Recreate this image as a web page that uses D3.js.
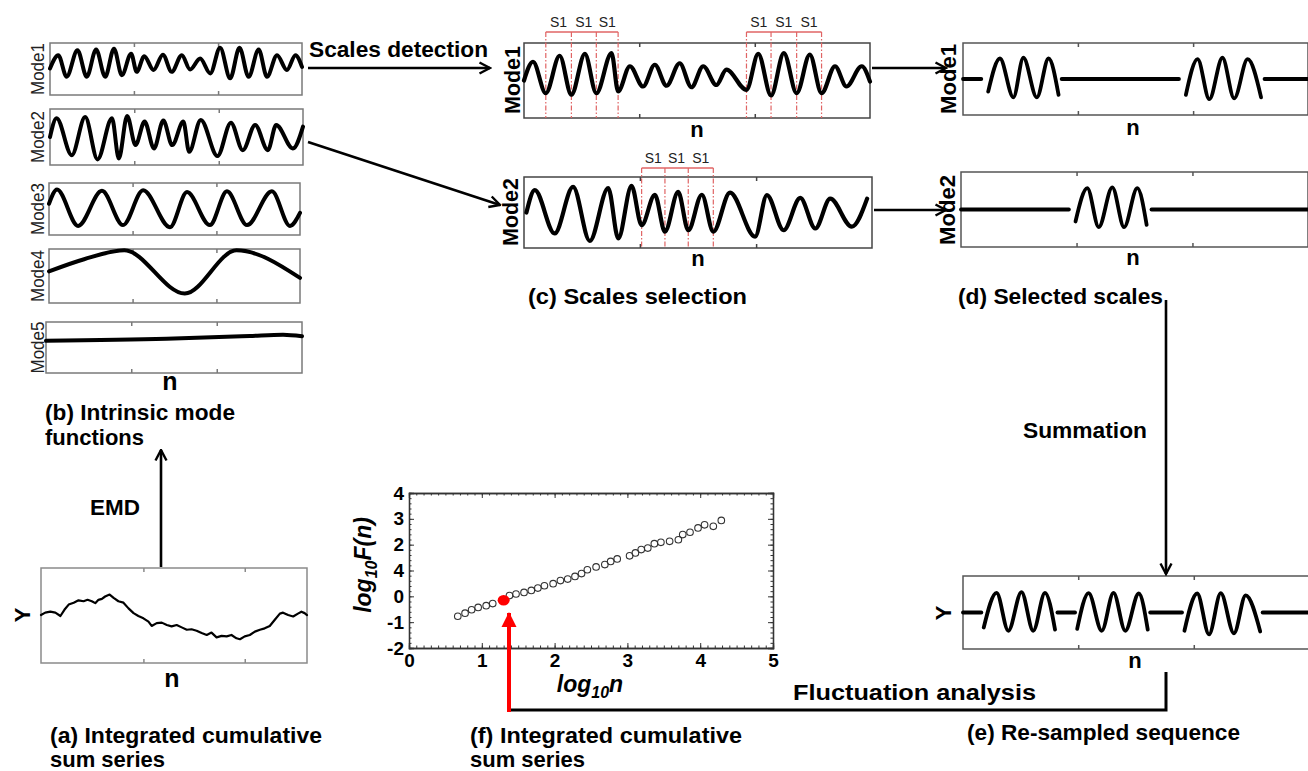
<!DOCTYPE html>
<html>
<head>
<meta charset="utf-8">
<script src="https://cdn.jsdelivr.net/npm/d3@7"></script>
<style>
  html, body { margin: 0; padding: 0; background: #fff; }
  svg { display: block; font-family: "Liberation Sans", Arial, sans-serif; }
</style>
</head>
<body>
<svg id="fig" width="1308" height="771"></svg>
<script>
// ---------------- data ----------------
// sample index n runs 0..1000 in every strip, amplitude -1..1 spans the strip height

// (a) integrated cumulative sum series
const cumSum = [[0,0.01],[16,0.06],[35,0.08],[54,0.06],[73,-0.01],[88,0.12],[104,0.23],[123,0.27],[141,0.32],[160,0.30],[175,0.33],[191,0.30],[204,0.26],[216,0.33],[229,0.35],[241,0.40],[258,0.44],[273,0.37],[291,0.30],[310,0.27],[329,0.15],[348,0.05],[366,-0.01],[385,-0.06],[404,-0.13],[416,-0.22],[435,-0.16],[454,-0.15],[473,-0.20],[491,-0.23],[510,-0.20],[529,-0.25],[548,-0.30],[566,-0.29],[585,-0.32],[604,-0.37],[623,-0.41],[641,-0.36],[660,-0.46],[679,-0.43],[698,-0.44],[716,-0.41],[735,-0.48],[748,-0.50],[766,-0.44],[785,-0.41],[804,-0.34],[823,-0.30],[841,-0.27],[860,-0.22],[879,-0.09],[898,0.04],[910,0.06],[929,0.01],[948,-0.02],[966,0.04],[979,0.08],[991,0.05],[1000,0.01]];
const cumSumTicks = [385, 766];

// (b) intrinsic mode functions (turning points)
const imfMode1 = [[0,0.02],[33,0.53],[66,-0.30],[109,0.72],[146,-0.30],[183,0.75],[219,-0.30],[254,0.78],[285,-0.24],[322,0.59],[344,-0.11],[374,0.49],[411,-0.04],[448,0.55],[483,-0.11],[523,0.53],[556,-0.02],[596,0.40],[636,-0.17],[675,0.82],[715,-0.36],[752,0.82],[788,-0.30],[828,0.75],[861,-0.30],[901,0.53],[940,-0.04],[974,0.53],[1000,0.08]];
const imfMode2 = [[0,0],[26,0.67],[86,-0.65],[139,0.71],[188,-0.80],[245,0.67],[272,-0.77],[305,0.75],[338,-0.29],[374,0.55],[411,-0.41],[448,0.59],[483,-0.29],[527,0.55],[550,-0.53],[596,0.61],[662,-0.68],[715,0.51],[762,-0.47],[811,0.43],[861,-0.47],[894,0.43],[960,-0.41],[1000,0.37]];
const imfMode3 = [[0,0.2],[32,0.75],[116,-0.65],[211,0.7],[295,-0.62],[375,0.72],[482,-0.7],[550,0.65],[641,-0.62],[709,0.68],[789,-0.62],[888,0.68],[960,-0.65],[1000,-0.15]];
const imfMode4 = [[0,0.17],[140,0.62],[300,0.95],[541,-0.65],[747,0.95],[1000,-0.07]];
const imfMode5 = [[0,0.26],[471,0.34],[796,0.45],[926,0.5],[1000,0.44]];
const imfNames = ["Mode1", "Mode2", "Mode3", "Mode4", "Mode5"];
const stripTicks = [333, 667];

// (c) scales selection: modes 1 and 2 with the detected S1 windows (bounded at troughs)
const selModeA = [[0,0],[26,0.5],[63,-0.34],[103,0.66],[137,-0.38],[176,0.71],[209,-0.34],[253,0.73],[272,-0.29],[306,0.38],[344,-0.16],[378,0.42],[412,-0.14],[450,0.46],[484,-0.18],[518,0.38],[556,-0.12],[585,0.29],[643,-0.25],[677,0.71],[714,-0.40],[751,0.73],[788,-0.34],[826,0.69],[860,-0.34],[899,0.38],[932,-0.16],[976,0.38],[1000,-0.03]];
const selModeB = [[7,0],[31,0.63],[88,-0.59],[141,0.72],[189,-0.80],[242,0.69],[271,-0.73],[309,0.75],[338,-0.36],[376,0.50],[405,-0.54],[443,0.58],[472,-0.50],[511,0.50],[544,-0.54],[592,0.56],[664,-0.68],[698,0.49],[746,-0.50],[794,0.41],[837,-0.45],[880,0.39],[942,-0.40],[986,0.39]];
const s1MarksA = [[63,137,209,272],[643,714,788,860]];
const s1MarksB = [[338,405,472,544]];
const s1Label = "S1";

// (d) selected scales: flat parts and kept oscillations
const keptMode1 = [
  [[0,0],[53,0]],
  [[73,-0.35],[107,0.57],[146,-0.51],[175,0.59],[214,-0.51],[248,0.57],[277,-0.44]],
  [[286,0],[626,0]],
  [[646,-0.44],[680,0.55],[714,-0.56],[752,0.59],[786,-0.54],[825,0.55],[864,-0.51]],
  [[874,0],[1000,0]]
];
const keptMode2 = [
  [[0,0],[311,0]],
  [[330,-0.32],[364,0.57],[397,-0.47],[436,0.59],[470,-0.47],[508,0.57],[535,-0.41]],
  [[549,0],[1000,0]]
];

// (e) re-sampled sequence
const resampled = [
  [[0,0],[53,0]],
  [[60,-0.41],[97,0.54],[131,-0.5],[169,0.56],[203,-0.5],[237,0.54],[266,-0.47]],
  [[273,0],[324,0]],
  [[330,-0.45],[363,0.53],[401,-0.5],[435,0.54],[469,-0.5],[508,0.52],[534,-0.47]],
  [[541,0],[633,0]],
  [[640,-0.5],[677,0.52],[711,-0.6],[745,0.53],[783,-0.57],[817,0.47],[859,-0.52]],
  [[866,0],[1000,0]]
];

// (f) fluctuation function, log10 n vs log10 F(n)
const logN = [0.67,0.77,0.86,0.95,1.06,1.15,1.30,1.38,1.47,1.58,1.68,1.77,1.86,1.98,2.08,2.18,2.28,2.37,2.45,2.57,2.69,2.77,2.86,3.03,3.11,3.19,3.28,3.37,3.46,3.58,3.70,3.76,3.86,3.97,4.06,4.18,4.29];
const logF = [-0.77,-0.65,-0.52,-0.43,-0.36,-0.28,-0.15,0.03,0.09,0.15,0.23,0.32,0.41,0.49,0.61,0.67,0.77,0.88,1.03,1.14,1.23,1.35,1.45,1.57,1.68,1.81,1.87,2.04,2.09,2.13,2.19,2.39,2.48,2.65,2.77,2.71,2.94];
const markedIndex = 6;
const xTickValues = [0, 1, 2, 3, 4, 5];
const xTickLabels = ["0", "1", "2", "3", "4", "5"];
const yTickValues = [-2, -1, 0, 1, 2, 3, 4];
const yTickLabels = ["-2", "-1", "0", "4", "2", "3", "4"];

// ---------------- drawing ----------------
const svg = d3.select("#fig");
const defs = svg.append("defs");

defs.append("marker")
  .attr("id", "headOpen").attr("viewBox", "0 0 14 14")
  .attr("refX", 12.5).attr("refY", 7)
  .attr("markerWidth", 14).attr("markerHeight", 14)
  .attr("markerUnits", "userSpaceOnUse").attr("orient", "auto")
  .append("path").attr("d", "M2,1.5 L12.5,7 L2,12.5")
  .attr("fill", "none").attr("stroke", "#000").attr("stroke-width", 2.4)
  .attr("stroke-linejoin", "miter");

defs.append("marker")
  .attr("id", "headRed").attr("viewBox", "0 0 16 16")
  .attr("refX", 14).attr("refY", 8)
  .attr("markerWidth", 16).attr("markerHeight", 16)
  .attr("markerUnits", "userSpaceOnUse").attr("orient", "auto")
  .append("path").attr("d", "M0,0.5 L15,8 L0,15.5 Z").attr("fill", "#ff0000");

function strip(b, ticks, stroke) {
  const x = d3.scaleLinear().domain([0, 1000]).range([b.x, b.x + b.w]);
  const y = d3.scaleLinear().domain([-1, 1]).range([b.y + b.h, b.y]);
  const g = svg.append("g");
  g.append("rect")
    .attr("x", b.x).attr("y", b.y).attr("width", b.w).attr("height", b.h)
    .attr("fill", "none").attr("stroke", stroke || "#6a6a6a").attr("stroke-width", 1.5);
  const bottom = g.append("g").attr("transform", `translate(0,${b.y + b.h})`)
    .call(d3.axisBottom(x).tickValues(ticks).tickSize(-4).tickFormat(""));
  const top = g.append("g").attr("transform", `translate(0,${b.y})`)
    .call(d3.axisTop(x).tickValues(ticks).tickSize(-4).tickFormat(""));
  [bottom, top].forEach(a => {
    a.select(".domain").remove();
    a.selectAll("line").attr("stroke", stroke || "#6a6a6a").attr("stroke-width", 1.5);
  });
  return { x, y, g, b };
}

function trace(p, pts, width, curve) {
  p.g.append("path").datum(pts)
    .attr("d", d3.line().x(d => p.x(d[0])).y(d => p.y(d[1])).curve(curve || d3.curveMonotoneX))
    .attr("fill", "none").attr("stroke", "#000").attr("stroke-width", width)
    .attr("stroke-linecap", "round").attr("stroke-linejoin", "round");
}

function text(str, x, y, size, o) {
  o = o || {};
  const t = svg.append("text")
    .attr("x", x).attr("y", y)
    .attr("font-size", size)
    .attr("font-weight", o.weight || "bold")
    .attr("text-anchor", o.anchor || "start")
    .attr("fill", o.fill || "#000")
    .text(str);
  if (o.width) t.attr("textLength", o.width).attr("lengthAdjust", "spacingAndGlyphs");
  if (o.rotate) {
    t.attr("x", 0).attr("y", 0).attr("dy", "0.35em")
      .attr("transform", `translate(${x},${y}) rotate(-90)`);
  }
  return t;
}

function arrow(pts, marker, color, width) {
  svg.append("path")
    .attr("d", d3.line()(pts))
    .attr("fill", "none").attr("stroke", color).attr("stroke-width", width)
    .attr("marker-end", marker ? `url(#${marker})` : null);
}

// ---- (b) intrinsic mode functions ----
const imfBoxes = [
  { x: 50, y: 43, w: 252, h: 52 },
  { x: 50, y: 109, w: 253, h: 56 },
  { x: 49, y: 183, w: 251, h: 52 },
  { x: 49, y: 249, w: 251, h: 54 },
  { x: 46, y: 322, w: 256, h: 51 }
];
[imfMode1, imfMode2, imfMode3, imfMode4, imfMode5].forEach((series, i) => {
  const p = strip(imfBoxes[i], stripTicks, "#7a7a7a");
  trace(p, series, 4);
  text(imfNames[i], 38, imfBoxes[i].y + imfBoxes[i].h / 2, 18,
       { rotate: true, anchor: "middle", weight: "normal", fill: "#222", width: 52 });
});
text("n", 170, 390, 25, { anchor: "middle" });
text("(b) Intrinsic mode", 45, 420, 22, { width: 190 });
text("functions", 45, 445, 22);

// ---- (a) cumulative sum ----
const pa = strip({ x: 41, y: 568, w: 266, h: 95 }, cumSumTicks, "#8a8a8a");
trace(pa, cumSum, 2.2, d3.curveLinear);
text("Y", 22, 615, 22, { rotate: true, anchor: "middle" });
text("n", 172, 687, 25, { anchor: "middle" });
text("(a) Integrated cumulative", 50, 743, 22, { width: 272 });
text("sum series", 50, 767, 22);

// ---- (c) scales selection ----
const pc1 = strip({ x: 524, y: 43, w: 346, h: 75 }, stripTicks, "#444");
const pc2 = strip({ x: 524, y: 177, w: 348, h: 71 }, stripTicks, "#444");

function s1Windows(p, groups, lineY, labelY) {
  const red = "#e06464";
  groups.forEach(grp => {
    grp.forEach(n => {
      p.g.append("line")
        .attr("x1", p.x(n)).attr("x2", p.x(n))
        .attr("y1", lineY).attr("y2", p.b.y + p.b.h)
        .attr("stroke", red).attr("stroke-width", 1.2)
        .attr("stroke-dasharray", "5,2,1.5,2");
    });
    p.g.append("line")
      .attr("x1", p.x(grp[0])).attr("x2", p.x(grp[grp.length - 1]))
      .attr("y1", lineY).attr("y2", lineY)
      .attr("stroke", red).attr("stroke-width", 1.5);
    d3.pairs(grp).forEach(([a, b]) => {
      p.g.append("text")
        .attr("x", (p.x(a) + p.x(b)) / 2).attr("y", labelY)
        .attr("text-anchor", "middle").attr("font-size", 14).attr("fill", "#222")
        .text(s1Label);
    });
  });
}
s1Windows(pc1, s1MarksA, 32, 27);
s1Windows(pc2, s1MarksB, 168, 163);
trace(pc1, selModeA, 4.2);
trace(pc2, selModeB, 4.2);
text("Mode1", 512, 80, 22, { rotate: true, anchor: "middle", width: 68 });
text("Mode2", 510, 212, 22, { rotate: true, anchor: "middle", width: 68 });
text("n", 697, 137, 22, { anchor: "middle" });
text("n", 698, 266, 22, { anchor: "middle" });
text("(c) Scales selection", 528, 304, 22, { width: 219 });

// ---- (d) selected scales ----
const pd1 = strip({ x: 963, y: 43, w: 345, h: 72 }, stripTicks, "#555");
const pd2 = strip({ x: 961, y: 172, w: 347, h: 75 }, stripTicks, "#555");
keptMode1.forEach(seg => trace(pd1, seg, 3.8));
keptMode2.forEach(seg => trace(pd2, seg, 3.8));
text("Mode1", 948, 79, 22, { rotate: true, anchor: "middle", width: 70 });
text("Mode2", 947, 210, 22, { rotate: true, anchor: "middle", width: 70 });
text("n", 1133, 135, 22, { anchor: "middle" });
text("n", 1133, 265, 22, { anchor: "middle" });
text("(d) Selected scales", 958, 304, 22, { width: 205 });

// ---- (e) re-sampled sequence ----
const pe = strip({ x: 963, y: 576, w: 346, h: 73 }, stripTicks, "#555");
resampled.forEach(seg => trace(pe, seg, 3.8));
text("Y", 943, 613, 22, { rotate: true, anchor: "middle" });
text("n", 1135, 668, 22, { anchor: "middle" });
text("(e) Re-sampled sequence", 967, 740, 22, { width: 273 });

// ---- (f) fluctuation plot ----
const fx = d3.scaleLinear().domain([0, 5]).range([409, 773]);
const fy = d3.scaleLinear().domain([-2, 4]).range([648, 493]);
const gf = svg.append("g");
const minorX = d3.range(0, 51).map(i => i / 10);
const minorY = d3.range(0, 31).map(i => -2 + i / 5);

function styleAxis(a) {
  a.select(".domain").attr("stroke", "#333").attr("stroke-width", 1.3);
  a.selectAll("line").attr("stroke", "#333");
}
gf.append("g").attr("transform", "translate(0,648)")
  .call(d3.axisBottom(fx).tickValues(minorX).tickSize(-2.5).tickFormat("")).call(styleAxis);
gf.append("g").attr("transform", "translate(0,493)")
  .call(d3.axisTop(fx).tickValues(minorX).tickSize(-2.5).tickFormat("")).call(styleAxis);
gf.append("g").attr("transform", "translate(409,0)")
  .call(d3.axisLeft(fy).tickValues(minorY).tickSize(-2.5).tickFormat("")).call(styleAxis);
gf.append("g").attr("transform", "translate(773,0)")
  .call(d3.axisRight(fy).tickValues(minorY).tickSize(-2.5).tickFormat("")).call(styleAxis);

const xMajor = gf.append("g").attr("transform", "translate(0,648)")
  .call(d3.axisBottom(fx).tickValues(xTickValues).tickSize(-5).tickPadding(6)
        .tickFormat((d, i) => xTickLabels[i]))
  .call(styleAxis);
const yMajor = gf.append("g").attr("transform", "translate(409,0)")
  .call(d3.axisLeft(fy).tickValues(yTickValues).tickSize(-5).tickPadding(5)
        .tickFormat((d, i) => yTickLabels[i]))
  .call(styleAxis);
gf.append("g").attr("transform", "translate(0,493)")
  .call(d3.axisTop(fx).tickValues(xTickValues).tickSize(-5).tickFormat("")).call(styleAxis);
gf.append("g").attr("transform", "translate(773,0)")
  .call(d3.axisRight(fy).tickValues(yTickValues).tickSize(-5).tickFormat("")).call(styleAxis);
[xMajor, yMajor].forEach(a => {
  a.attr("font-size", 19).attr("font-weight", "bold")
   .attr("font-family", "'Liberation Sans', Arial, sans-serif");
  a.selectAll("text").attr("fill", "#000");
});

const pts = logN.map((v, i) => ({ x: v, y: logF[i], i }));
gf.selectAll("circle.pt").data(pts.filter(d => d.i !== markedIndex)).join("circle")
  .attr("class", "pt")
  .attr("cx", d => fx(d.x)).attr("cy", d => fy(d.y)).attr("r", 3.3)
  .attr("fill", "none").attr("stroke", "#333").attr("stroke-width", 1.1);
gf.append("ellipse")
  .attr("cx", fx(logN[markedIndex])).attr("cy", fy(logF[markedIndex]))
  .attr("rx", 6).attr("ry", 5.3).attr("fill", "#ff0000");

const yTitle = svg.append("text")
  .attr("transform", "translate(371,565) rotate(-90)")
  .attr("text-anchor", "middle").attr("font-size", 23)
  .attr("font-weight", "bold").attr("font-style", "italic");
yTitle.append("tspan").text("log");
yTitle.append("tspan").attr("font-size", 16).attr("dy", 6).text("10");
yTitle.append("tspan").attr("dy", -6).text("F(n)");

const xTitle = svg.append("text")
  .attr("x", 590).attr("y", 692)
  .attr("text-anchor", "middle").attr("font-size", 23)
  .attr("font-weight", "bold").attr("font-style", "italic");
xTitle.append("tspan").text("log");
xTitle.append("tspan").attr("font-size", 16).attr("dy", 6).text("10");
xTitle.append("tspan").attr("dy", -6).text("n");

text("(f) Integrated cumulative", 470, 743, 22, { width: 272 });
text("sum series", 470, 767, 22);

// ---- flow arrows and step names ----
arrow([[308, 68], [490, 68]], "headOpen", "#000", 2.6);
text("Scales detection", 309, 57, 22, { width: 179 });
arrow([[308, 142], [500, 205]], "headOpen", "#000", 2.6);
arrow([[872, 68], [946, 68]], "headOpen", "#000", 2.6);
arrow([[874, 210], [946, 210]], "headOpen", "#000", 2.6);
arrow([[1166, 300], [1166, 574]], "headOpen", "#000", 2.6);
text("Summation", 1023, 438, 22, { width: 124 });
arrow([[161, 567], [161, 450]], "headOpen", "#000", 2.6);
text("EMD", 90, 515, 22, { width: 50 });
arrow([[1166, 672], [1166, 710], [509, 710]], null, "#000", 3);
text("Fluctuation analysis", 793, 700, 22, { width: 243 });
arrow([[509, 712], [509, 613]], "headRed", "#ff0000", 4);
</script>
</body>
</html>
